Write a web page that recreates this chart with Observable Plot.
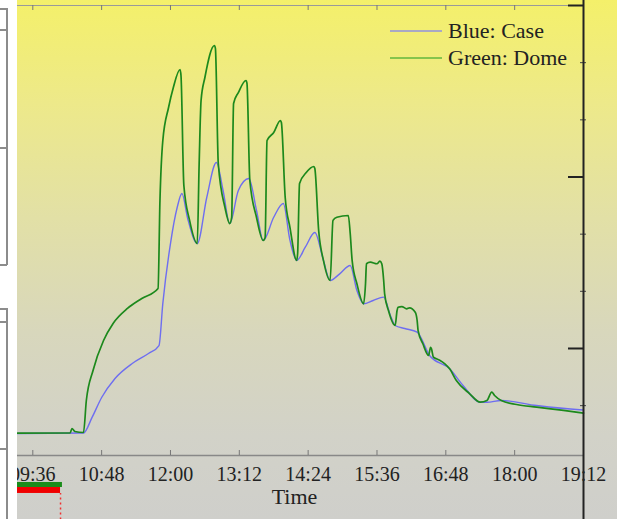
<!DOCTYPE html>
<html><head><meta charset="utf-8">
<script src="https://cdn.jsdelivr.net/npm/d3@7"></script>
<script src="https://cdn.jsdelivr.net/npm/@observablehq/plot@0.6"></script>
<style>
html,body{margin:0;padding:0;}
#wrap{position:relative;width:617px;height:519px;overflow:hidden;
  background:linear-gradient(to bottom,#f4f06a 0%,#ede98a 20%,#e2e0a6 42%,#d8d7bc 64%,#d2d2c8 84%,#cfcfcb 100%);
  font-family:"Liberation Serif",serif;}
#chart{position:absolute;left:0;top:0;}
#strip{position:absolute;left:0;top:0;width:17px;height:519px;background:#fff;z-index:2;}
.gl{position:absolute;background:#8c8c8c;}
#legend{position:absolute;left:390px;top:17px;z-index:3;font-size:22px;color:#222;}
#legend .row{display:flex;align-items:center;height:27.5px;white-space:nowrap;}
#legend .sw{display:inline-block;width:52px;height:2px;margin-right:6px;}
</style></head><body>
<div id="wrap">
  <div id="chart"></div>
  <div id="strip">
    <div class="gl" style="left:6px;top:8px;width:1.5px;height:257px"></div>
    <div class="gl" style="left:0;top:8px;width:7px;height:1.5px"></div>
    <div class="gl" style="left:0;top:29px;width:7px;height:1.5px"></div>
    <div class="gl" style="left:0;top:147px;width:7px;height:1.5px"></div>
    <div class="gl" style="left:0;top:264px;width:7px;height:1.5px"></div>
    <div class="gl" style="left:6px;top:308px;width:1.5px;height:211px"></div>
    <div class="gl" style="left:0;top:308px;width:7px;height:1.5px"></div>
    <div class="gl" style="left:0;top:321px;width:7px;height:1.5px"></div>
    <div class="gl" style="left:0;top:448px;width:7px;height:1.5px"></div>
  </div>
  <div id="legend">
    <div class="row"><span class="sw" style="background:#a9a9c4"></span><span>Blue: Case</span></div>
    <div class="row"><span class="sw" style="background:#86c44c"></span><span>Green: Dome</span></div>
  </div>
</div>
<script>
// ---- data ----
const caseTimes = ["09:20","10:29","10:38","10:48","11:02","11:20","11:37","11:48","11:52","12:00","12:07","12:12","12:18","12:28","12:38","12:48","12:55","13:02","13:11","13:22","13:30","13:37","13:48","13:58","14:05","14:12","14:21","14:31","14:40","14:47","14:57","15:08","15:15","15:22","15:32","15:43","15:50","15:55","16:05","16:18","16:31","16:52","17:06","17:24","17:31","17:46","18:23","19:08","19:12"];
const caseValues = [7.57,7.61,8.97,10.71,12.38,13.69,14.56,15.26,18.94,24.18,27.33,28.56,26.37,24.18,28.23,31.27,28.82,25.93,28.82,29.87,27.07,24.45,26.48,27.68,24.45,22.70,23.86,25.15,22.70,20.95,21.53,22.26,20.07,18.91,19.20,19.49,17.89,17.01,16.75,16.43,14.39,13.22,11.76,10.30,10.30,10.45,10.01,9.64,9.62];

const domeTimes = ["09:20","10:15","10:17","10:20","10:29","10:32","10:39","10:50","11:00","11:15","11:30","11:47","11:49","11:52","11:58","12:03","12:10","12:11","12:14","12:20","12:28","12:30","12:32","12:36","12:46","12:47","12:50","12:57","13:02","13:04","13:06","13:11","13:19","13:20","13:23","13:30","13:37","13:39","13:41","13:48","13:55","13:56","14:00","14:05","14:12","14:13","14:15","14:22","14:30","14:31","14:35","14:40","14:47","14:50","14:54","15:06","15:08","15:10","15:15","15:22","15:24","15:25","15:29","15:36","15:39","15:41","15:43","15:44","15:48","15:55","15:57","15:58","16:02","16:07","16:10","16:16","16:18","16:19","16:24","16:30","16:32","16:33","16:35","16:38","16:42","16:47","16:52","16:59","17:13","17:24","17:31","17:36","17:39","17:46","18:02","18:23","18:51","19:12"];
const domeValues = [7.59,7.61,8.00,7.74,7.65,10.45,13.08,15.70,17.19,18.50,19.37,20.25,27.94,33.19,36.08,37.83,39.40,38.88,29.26,26.20,24.18,31.18,36.69,38.70,41.50,41.24,31.18,27.33,25.93,26.46,36.43,37.39,38.44,38.20,29.69,26.46,24.45,24.71,33.19,33.89,34.94,34.77,28.21,25.58,22.70,23.31,29.43,30.39,30.92,30.74,25.32,22.70,20.95,26.20,26.48,26.63,25.06,22.70,20.66,18.91,20.66,22.41,22.55,22.41,22.64,22.41,20.95,19.78,18.32,17.01,18.32,18.61,18.67,18.47,18.56,18.17,17.45,16.57,15.41,14.39,15.11,14.97,14.24,14.10,13.95,13.66,13.22,12.20,11.04,10.30,10.45,11.18,10.89,10.45,10.10,9.87,9.58,9.34];

const xTickLabels = ["09:36","10:48","12:00","13:12","14:24","15:36","16:48","18:00","19:12"];
const xDomainLabels = ["09:20","19:12"];
const yDomain = [5.64, 45];
const yMajorTicks = [15, 30, 45];
const yMinorTicks = [10, 20, 25, 35, 40];
const greenBar = [{from:"09:20", to:"10:07", lo:2.84, hi:3.28}];
const redBar = [{from:"09:20", to:"10:05", lo:2.32, hi:2.84}];
const redDots = [{at:"10:05", lo:0.0, hi:2.32}];

// ---- build ----
const parse = d3.utcParse("%H:%M");
const caseData = caseTimes.map((t,i)=>({t:parse(t), v:caseValues[i]}));
const domeData = domeTimes.map((t,i)=>({t:parse(t), v:domeValues[i]}));
const xTicks = xTickLabels.map(parse);
const xDomain = xDomainLabels.map(parse);
const bar = b => ({x1: parse(b.from), x2: parse(b.to), y1: b.lo, y2: b.hi});

const chart = Plot.plot({
  width: 617, height: 519,
  marginLeft: 17, marginRight: 34, marginTop: 5, marginBottom: 64,
  style: {background: "none", fontFamily: "'Liberation Serif', serif", fontSize: "20px", color: "#222", overflow: "visible"},
  x: {type: "utc", domain: xDomain, label: null},
  y: {domain: yDomain, axis: null},
  marks: [
    Plot.line(caseData, {x: "t", y: "v", stroke: "#6e6ef0", strokeWidth: 1.4, curve: "monotone-x"}),
    Plot.line(domeData, {x: "t", y: "v", stroke: "#1c891c", strokeWidth: 1.7, curve: "monotone-x"}),
    Plot.ruleY([yDomain[1]], {stroke: "#9a9a9a", strokeWidth: 1.2}),
    Plot.ruleY([yDomain[0]], {stroke: "#888", strokeWidth: 1.5}),
    Plot.ruleX(xTicks, {insetTop: 445, stroke: "#777", strokeWidth: 1}),
    Plot.ruleX(xTicks, {insetBottom: 445, stroke: "#777", strokeWidth: 1}),
    Plot.axisX(xTicks, {tickSize: 0, tickPadding: 11, tickFormat: "%H:%M", fontSize: 20, fill: "#222", label: null}),
    Plot.text(["Time"], {frameAnchor: "bottom", dy: 48, dx: -6, fontSize: 22, fill: "#222"}),
    Plot.rect(greenBar.map(bar), {x1: "x1", x2: "x2", y1: "y1", y2: "y2", fill: "#1a8c1a"}),
    Plot.rect(redBar.map(bar), {x1: "x1", x2: "x2", y1: "y1", y2: "y2", fill: "#f00000"}),
    Plot.ruleX(redDots.map(d => ({x: parse(d.at), y1: d.lo, y2: d.hi})), {x: "x", y1: "y1", y2: "y2", stroke: "#f03030", strokeWidth: 1.5, strokeDasharray: "2,3"}),
    Plot.ruleY(yMajorTicks, {insetLeft: 551, stroke: "#222", strokeWidth: 2}),
    Plot.ruleY(yMinorTicks, {insetLeft: 563, insetRight: -3, stroke: "#444", strokeWidth: 1}),
    Plot.ruleX([xDomain[1]], {insetTop: -5, insetBottom: -64, stroke: "#222", strokeWidth: 2})
  ]
});
document.getElementById("chart").appendChild(chart);
</script>
</body></html>
